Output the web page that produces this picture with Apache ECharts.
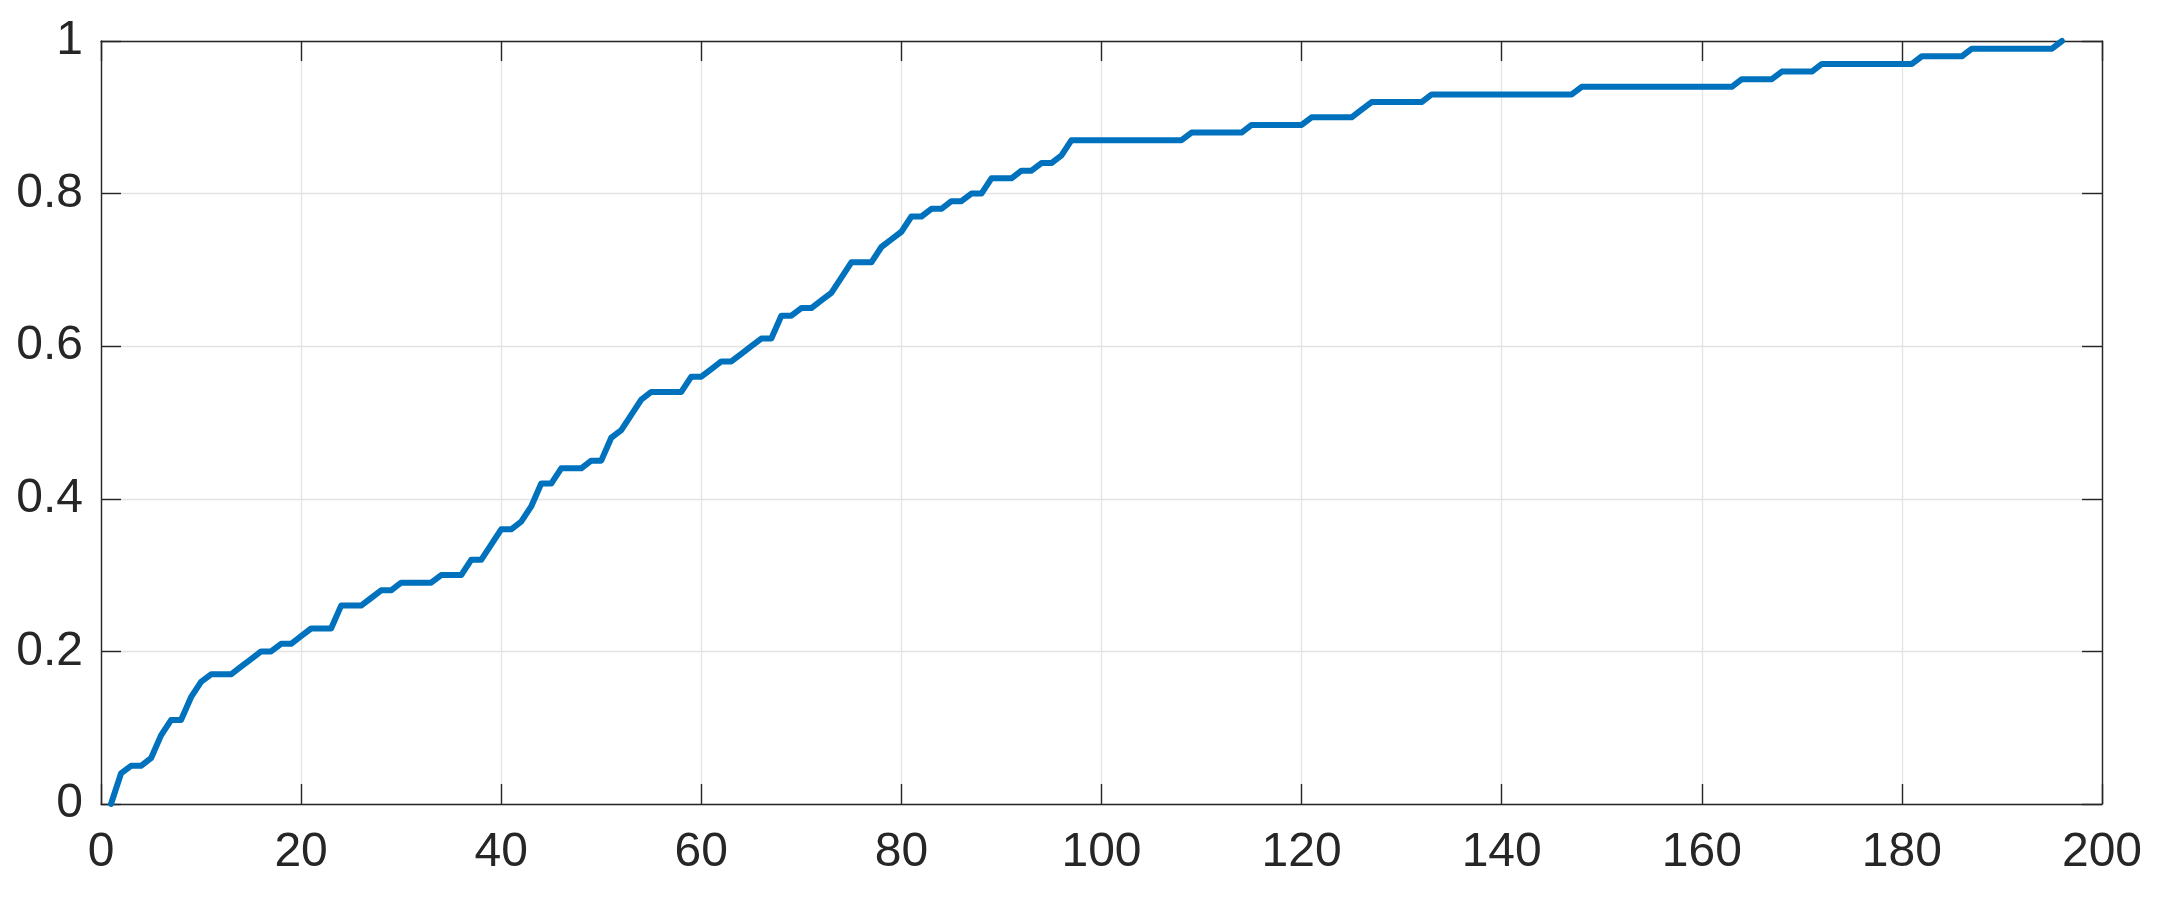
<!DOCTYPE html>
<html>
<head>
<meta charset="utf-8">
<script src="https://cdn.jsdelivr.net/npm/echarts@6/dist/echarts.min.js"></script>
<style>
  html, body { margin: 0; padding: 0; background: #fff; }
  #main { width: 2162px; height: 905px; }
</style>
</head>
<body>
<div id="main"></div>
<script>
// cumulative fraction read at each step x = 1..196
const cdfValues = [
  0, 0.04, 0.05, 0.05, 0.06, 0.09, 0.11, 0.11, 0.14, 0.16,
  0.17, 0.17, 0.17, 0.18, 0.19, 0.20, 0.20, 0.21, 0.21, 0.22,
  0.23, 0.23, 0.23, 0.26, 0.26, 0.26, 0.27, 0.28, 0.28, 0.29,
  0.29, 0.29, 0.29, 0.30, 0.30, 0.30, 0.32, 0.32, 0.34, 0.36,
  0.36, 0.37, 0.39, 0.42, 0.42, 0.44, 0.44, 0.44, 0.45, 0.45,
  0.48, 0.49, 0.51, 0.53, 0.54, 0.54, 0.54, 0.54, 0.56, 0.56,
  0.57, 0.58, 0.58, 0.59, 0.60, 0.61, 0.61, 0.64, 0.64, 0.65,
  0.65, 0.66, 0.67, 0.69, 0.71, 0.71, 0.71, 0.73, 0.74, 0.75,
  0.77, 0.77, 0.78, 0.78, 0.79, 0.79, 0.80, 0.80, 0.82, 0.82,
  0.82, 0.83, 0.83, 0.84, 0.84, 0.85, 0.87, 0.87, 0.87, 0.87,
  0.87, 0.87, 0.87, 0.87, 0.87, 0.87, 0.87, 0.87, 0.88, 0.88,
  0.88, 0.88, 0.88, 0.88, 0.89, 0.89, 0.89, 0.89, 0.89, 0.89,
  0.90, 0.90, 0.90, 0.90, 0.90, 0.91, 0.92, 0.92, 0.92, 0.92,
  0.92, 0.92, 0.93, 0.93, 0.93, 0.93, 0.93, 0.93, 0.93, 0.93,
  0.93, 0.93, 0.93, 0.93, 0.93, 0.93, 0.93, 0.94, 0.94, 0.94,
  0.94, 0.94, 0.94, 0.94, 0.94, 0.94, 0.94, 0.94, 0.94, 0.94,
  0.94, 0.94, 0.94, 0.95, 0.95, 0.95, 0.95, 0.96, 0.96, 0.96,
  0.96, 0.97, 0.97, 0.97, 0.97, 0.97, 0.97, 0.97, 0.97, 0.97,
  0.97, 0.98, 0.98, 0.98, 0.98, 0.98, 0.99, 0.99, 0.99, 0.99,
  0.99, 0.99, 0.99, 0.99, 0.99, 1.00
];
const firstX = 1;

const xTicks = [0, 20, 40, 60, 80, 100, 120, 140, 160, 180, 200];
const yTicks = [0, 0.2, 0.4, 0.6, 0.8, 1];

const axisColor = "#262626";
const gridColor = "#e3e3e3";
const lineColor = "#0072BD";
const fontFamily = "'Liberation Sans', Arial, Helvetica, sans-serif";

// pair each value with its x position
const points = cdfValues.map((v, i) => [firstX + i, v]);

// builds one side of the box (labels only on bottom / left)
function makeAxis(ticks, position, main) {
  return {
    type: "value",
    position: position,
    min: ticks[0],
    max: ticks[ticks.length - 1],
    interval: ticks[1] - ticks[0],
    axisLine: { show: true, onZero: false, lineStyle: { color: axisColor, width: 1.4 } },
    axisTick: { show: true, inside: true, length: 20, lineStyle: { color: axisColor, width: 1.4 } },
    axisLabel: {
      show: main,
      color: axisColor,
      fontSize: 48,
      fontFamily: fontFamily,
      margin: position === "bottom" ? 25 : 18,
      showMinLabel: true,
      showMaxLabel: true
    },
    splitLine: { show: main, lineStyle: { color: gridColor, width: 1.3 } }
  };
}

const options = {
  animation: false,
  backgroundColor: "#ffffff",
  grid: { left: 101, right: 60, top: 41, bottom: 101, containLabel: false },
  xAxis: [makeAxis(xTicks, "bottom", true), makeAxis(xTicks, "top", false)],
  yAxis: [makeAxis(yTicks, "left", true), makeAxis(yTicks, "right", false)],
  series: [
    {
      type: "line",
      data: points,
      showSymbol: false,
      lineStyle: { color: lineColor, width: 6, join: "round", cap: "round" },
      clip: false
    }
  ]
};

let myChart = echarts.init(document.getElementById("main"));
myChart.setOption(options);
</script>
</body>
</html>
